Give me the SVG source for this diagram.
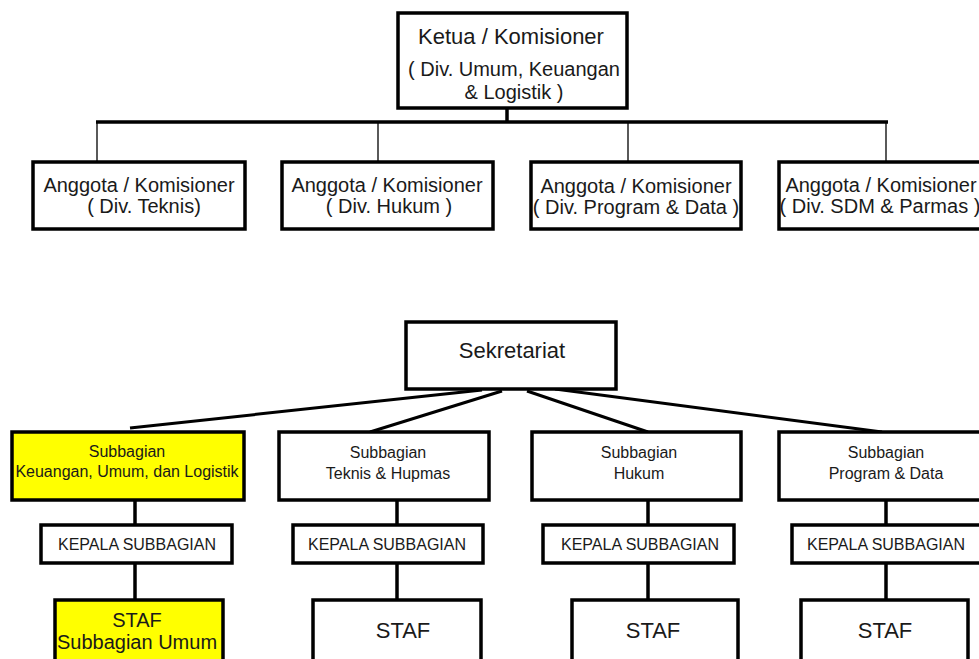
<svg xmlns="http://www.w3.org/2000/svg" width="979" height="659" viewBox="0 0 979 659">
<style>
.box{fill:#fff;stroke:#000;stroke-width:3.5}
.yel{fill:#ffff00;stroke:#000;stroke-width:3.5}
text{font-family:"Liberation Sans",Arial,sans-serif;fill:#1a1a1a;text-anchor:middle}
.t22{font-size:22px}
.t20{font-size:20px}
.t16{font-size:16px}
.thick{stroke:#000;stroke-width:3.5;fill:none}
.thin{stroke:#000;stroke-width:1.3;fill:none}
.slant{stroke:#000;stroke-width:3;fill:none}
</style>
<rect width="979" height="659" fill="#fff"/>
<g id="connectors">
<line class="thick" x1="507" y1="108" x2="507" y2="122"/>
<line class="thick" x1="96" y1="122" x2="888" y2="122"/>
<line class="thin" x1="97" y1="122" x2="97" y2="162"/>
<line class="thin" x1="378" y1="122" x2="378" y2="162"/>
<line class="thin" x1="628" y1="122" x2="628" y2="162"/>
<line class="thin" x1="886" y1="122" x2="886" y2="162"/>
<line class="slant" x1="482" y1="390" x2="130" y2="428"/>
<line class="slant" x1="502" y1="391" x2="370" y2="432"/>
<line class="slant" x1="527" y1="391" x2="648" y2="432"/>
<line class="slant" x1="555" y1="389" x2="882" y2="432"/>
<line class="thick" x1="135" y1="500" x2="135" y2="525"/>
<line class="thick" x1="135" y1="563" x2="135" y2="600"/>
<line class="thick" x1="397" y1="500" x2="397" y2="525"/>
<line class="thick" x1="397" y1="563" x2="397" y2="600"/>
<line class="thick" x1="648" y1="500" x2="648" y2="525"/>
<line class="thick" x1="648" y1="563" x2="648" y2="600"/>
<line class="thick" x1="886" y1="500" x2="886" y2="525"/>
<line class="thick" x1="886" y1="563" x2="886" y2="600"/>
</g>
<g id="ketua">
<rect class="box" x="398" y="13" width="229" height="95"/>
<text class="t22" x="511" y="44">Ketua / Komisioner</text>
<text class="t20" x="514" y="76">( Div. Umum, Keuangan</text>
<text class="t20" x="514" y="99">&amp; Logistik )</text>
</g>
<g id="anggota-teknis">
<rect class="box" x="33" y="162" width="212" height="67"/>
<text class="t20" x="139" y="192">Anggota / Komisioner</text>
<text class="t20" x="144" y="213">( Div. Teknis)</text>
</g>
<g id="anggota-hukum">
<rect class="box" x="282" y="162" width="211" height="67"/>
<text class="t20" x="387" y="192">Anggota / Komisioner</text>
<text class="t20" x="389" y="213">( Div. Hukum )</text>
</g>
<g id="anggota-program">
<rect class="box" x="531" y="162" width="210" height="67"/>
<text class="t20" x="636" y="193">Anggota / Komisioner</text>
<text class="t20" x="636" y="214">( Div. Program &amp; Data )</text>
</g>
<g id="anggota-sdm">
<rect class="box" x="779" y="162" width="210" height="67"/>
<text class="t20" x="881" y="192">Anggota / Komisioner</text>
<text class="t20" x="880" y="213">( Div. SDM &amp; Parmas )</text>
</g>
<g id="sekretariat">
<rect class="box" x="406" y="322" width="210" height="67"/>
<text class="t22" x="512" y="358">Sekretariat</text>
</g>
<g id="sub-keuangan">
<rect class="yel" x="12" y="432" width="232" height="68"/>
<text class="t16" x="127" y="457">Subbagian</text>
<text class="t16" x="127" y="477">Keuangan, Umum, dan Logistik</text>
</g>
<g id="sub-teknis">
<rect class="box" x="279" y="432" width="210" height="68"/>
<text class="t16" x="388" y="458">Subbagian</text>
<text class="t16" x="388" y="479">Teknis &amp; Hupmas</text>
</g>
<g id="sub-hukum">
<rect class="box" x="532" y="432" width="209" height="68"/>
<text class="t16" x="639" y="458">Subbagian</text>
<text class="t16" x="639" y="479">Hukum</text>
</g>
<g id="sub-program">
<rect class="box" x="779" y="432" width="210" height="68"/>
<text class="t16" x="886" y="458">Subbagian</text>
<text class="t16" x="886" y="479">Program &amp; Data</text>
</g>
<g id="kepala-1">
<rect class="box" x="41" y="525" width="191" height="38"/>
<text class="t16" x="137" y="550">KEPALA SUBBAGIAN</text>
</g>
<g id="kepala-2">
<rect class="box" x="293" y="525" width="190" height="38"/>
<text class="t16" x="387" y="550">KEPALA SUBBAGIAN</text>
</g>
<g id="kepala-3">
<rect class="box" x="543" y="525" width="191" height="38"/>
<text class="t16" x="640" y="550">KEPALA SUBBAGIAN</text>
</g>
<g id="kepala-4">
<rect class="box" x="792" y="525" width="197" height="38"/>
<text class="t16" x="886" y="550">KEPALA SUBBAGIAN</text>
</g>
<g id="staf-1">
<rect class="yel" x="55" y="600" width="168" height="70"/>
<text class="t20" x="137" y="627">STAF</text>
<text class="t20" x="137" y="649">Subbagian Umum</text>
</g>
<g id="staf-2">
<rect class="box" x="313" y="600" width="168" height="70"/>
<text class="t22" x="403" y="638">STAF</text>
</g>
<g id="staf-3">
<rect class="box" x="572" y="600" width="166" height="70"/>
<text class="t22" x="653" y="638">STAF</text>
</g>
<g id="staf-4">
<rect class="box" x="801" y="600" width="167" height="70"/>
<text class="t22" x="885" y="638">STAF</text>
</g>
</svg>
